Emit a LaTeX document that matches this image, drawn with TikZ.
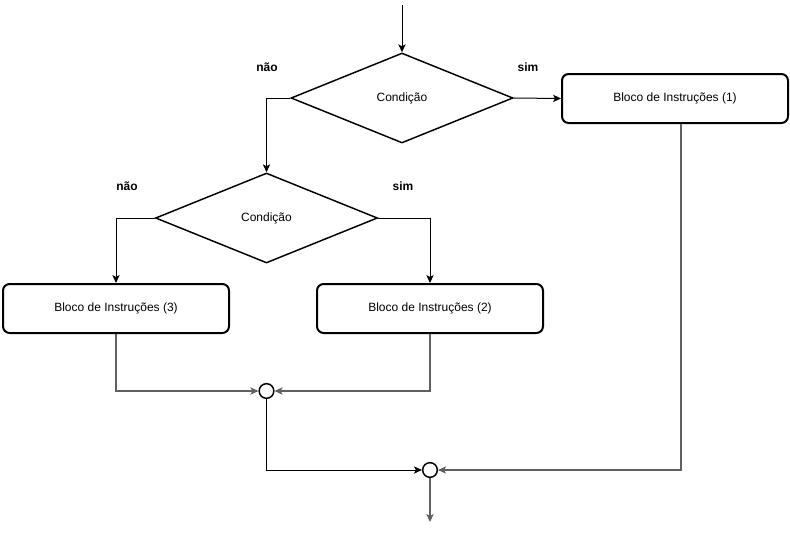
\documentclass[tikz,border=0pt]{standalone}
\usepackage{fontspec}
\setmainfont{Liberation Sans}
\usetikzlibrary{positioning,arrows.meta,shapes.geometric,calc}
\definecolor{Wire}{RGB}{96,96,96}

\begin{document}
\begin{tikzpicture}[x=.75pt,y=-.75pt,font=\fontsize{9}{11}\selectfont,
 d/.style={diamond,draw,line width=1.1pt,aspect=2.5,inner sep=0pt,minimum width=166.5pt,minimum height=67.5pt},
 b/.style={rectangle,rounded corners=5pt,draw,line width=1.5pt,minimum width=169.5pt,minimum height=36.75pt,align=center},
 j/.style={circle,draw,line width=1.1pt,minimum size=11pt,inner sep=0pt},
 t/.style={font=\fontsize{9}{11}\selectfont\bfseries},
 a/.style={-{Stealth[length=6pt,width=5.5pt,inset=1.5pt]},line width=.75pt},
 g/.style={a,Wire,line width=.9pt}]
\useasboundingbox (0,0) rectangle (790,533);
\coordinate (in) at (402,5);
\node[d] (c1) at (402,98) {Condição};
\node[b] (b1) at (675,98.5) {Bloco de Instruções (1)};
\node[d] (c2) at (266.5,218) {Condição};
\node[b] (b3) at (116,308.5) {Bloco de Instruções (3)};
\node[b] (b2) at (430,308.5) {Bloco de Instruções (2)};
\node[j] (m1) at (266.5,391) {};
\node[j] (m2) at (430,470) {};
\coordinate (out) at (430,522);
\node[t] (n1) at (267,67) {não};
\node[t] (s1) at (528,67) {sim};
\node[t] (n2) at (127,186) {não};
\node[t] (s2) at (403,186) {sim};
\draw[a] (in)--(c1.north);
\draw[a] (c1.east)--(b1.west);
\draw[a] (c1.west)-|(c2.north);
\draw[a] (c2.west)-|(b3.north);
\draw[a] (c2.east)-|(b2.north);
\draw[g] (b3.south)|-(m1.west);
\draw[g] (b2.south)|-(m1.east);
\draw[a] (m1.south)|-(m2.west);
\draw[g] ($(b1.south)+(6,0)$)|-(m2.east);
\draw[g] (m2.south)--(out);
\end{tikzpicture}
\end{document}
